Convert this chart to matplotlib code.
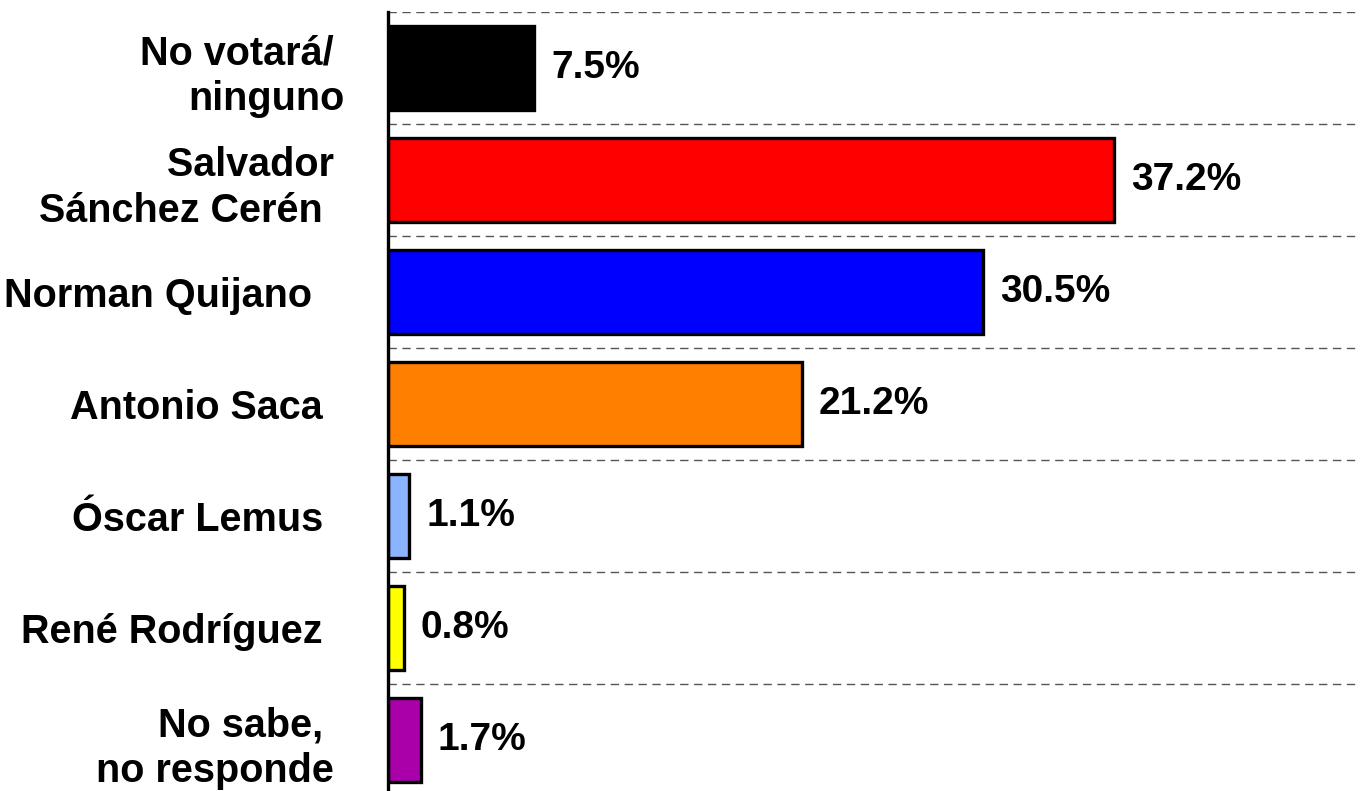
import matplotlib
matplotlib.use("Agg")
import matplotlib.pyplot as plt
import numpy as np

categories = ["No votará/ \nninguno", "Salvador \nSánchez Cerén  ", "Norman Quijano   ",
              "Antonio Saca  ", "Óscar Lemus  ", "René Rodríguez  ", "No sabe,  \nno responde "]
values = [7.5, 37.2, 30.5, 21.2, 1.1, 0.8, 1.7]
labels = ["7.5%", "37.2%", "30.5%", "21.2%", "1.1%", "0.8%", "1.7%"]
colors = ["#000000", "#FF0000", "#0000FF", "#FF8000", "#8AB4FF", "#FFFF00", "#AA00AA"]

plt.rcParams['font.family'] = ['Liberation Sans', 'DejaVu Sans']

fig = plt.figure(figsize=(13.61, 7.91), dpi=100)
ax = fig.add_axes([388/1361, -5/791, 970/1361, 784/791])

y = np.arange(len(categories))
bars = ax.barh(y, values, height=0.75, color=colors, edgecolor="black", linewidth=2.4, zorder=3)

for b, lab in zip(bars, labels):
    ax.annotate(lab, (b.get_width(), b.get_y() + b.get_height()/2),
                xytext=(12, 0), textcoords="offset points", ha="left", va="center",
                fontsize=28, fontweight="bold", color="black")

ax.set_xlim(0, 49.7)
ax.set_ylim(len(categories) - 0.5, -0.5)
ax.set_yticks(y)
ax.set_yticklabels(categories, fontsize=28.5, fontweight="bold", ha="right",
                   multialignment="right", linespacing=1.28)
ax.tick_params(axis="y", length=0, pad=31)
ax.set_xticks([])
ax.set_yticks(np.arange(-0.5, len(categories), 1), minor=True)
ax.tick_params(axis="y", which="minor", length=0)
ax.grid(which="minor", axis="y", linestyle=(0, (6, 4)), color="#555555", linewidth=1.0, zorder=0)
ax.set_axisbelow(True)

for s in ["top", "right", "bottom"]:
    ax.spines[s].set_visible(False)
ax.spines["left"].set_linewidth(2.4)
ax.spines["left"].set_color("black")
ax.spines["left"].set_zorder(4)

fig.savefig("out.png", dpi=100)
